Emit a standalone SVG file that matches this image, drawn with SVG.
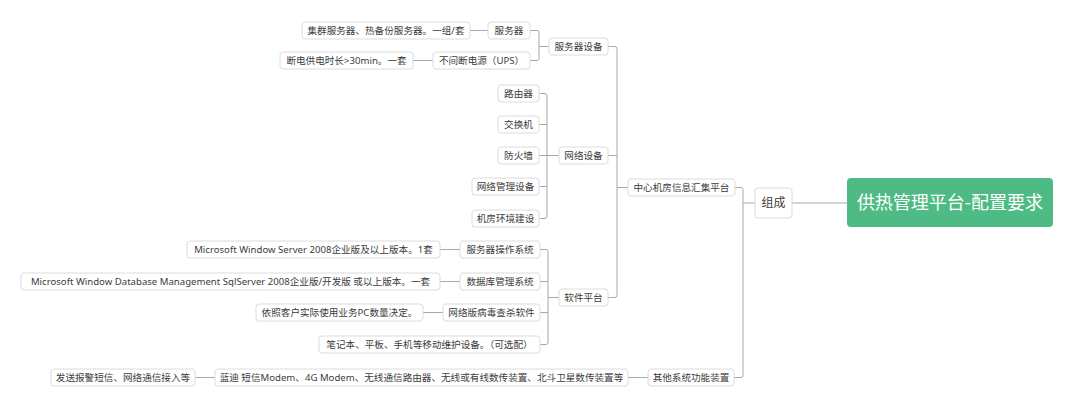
<svg xmlns="http://www.w3.org/2000/svg" width="1080" height="408" viewBox="0 0 1080 408">
<style>
.b{fill:#fff;stroke:#dcdcdc;stroke-width:1}
.t{font-family:"Noto Sans","Noto Sans CJK SC",sans-serif;font-size:9.6px;fill:#3c3c3c;text-anchor:middle}
.c{fill:none;stroke:#a8a8a8;stroke-width:1}
</style>
<rect width="1080" height="408" fill="#fff"/>
<g id="connectors">
<path class="c" d="M792,203 H847"/>
<path class="c" d="M735,187.5 H741 Q743,187.5 743,189.5 V375.5 Q743,377.5 741,377.5 H734 M743,203 H755"/>
<path class="c" d="M608,46.5 H615 Q617,46.5 617,48.5 V295.5 Q617,297.5 615,297.5 H608 M608,155.5 H617 M617,187.5 H628"/>
<path class="c" d="M530,30.5 H537 Q539,30.5 539,32.5 V58.5 Q539,60.5 537,60.5 H530 M539,46.5 H549"/>
<path class="c" d="M470,30.5 H488 M413,60.5 H433"/>
<path class="c" d="M539,93.5 H545 Q547,93.5 547,95.5 V216.5 Q547,218.5 545,218.5 H539 M539,124.5 H547 M539,155.5 H559 M539,186.5 H547"/>
<path class="c" d="M540,249.5 H546 Q548,249.5 548,251.5 V342.5 Q548,344.5 546,344.5 H540 M540,281.5 H548 M540,312.5 H548 M548,297.5 H559"/>
<path class="c" d="M440,249.5 H460 M440,281.5 H460 M423,312.5 H443"/>
<path class="c" d="M628,377.5 H648 M195,377.5 H215"/>
</g>
<g id="root"><rect x="847" y="178" width="206" height="49" rx="4" fill="#4fbb84"/><text x="950" y="209" font-family="Noto Sans CJK SC, sans-serif" font-size="18" fill="#fff" text-anchor="middle">供热管理平台-配置要求</text></g>
<g id="zucheng"><rect class="b" x="755" y="188" width="37" height="30" rx="3"/><text class="t" x="773.5" y="207" style="font-size:12px">组成</text></g>
<g id="center"><rect class="b" x="628" y="179" width="107" height="17" rx="3"/><text class="t" x="681.5" y="191">中心机房信息汇集平台</text></g>
<g id="srvdev"><rect class="b" x="549" y="38" width="59" height="17" rx="3"/><text class="t" x="578.5" y="50">服务器设备</text></g>
<g id="srv"><rect class="b" x="488" y="22" width="42" height="17" rx="3"/><text class="t" x="509" y="34">服务器</text></g>
<g id="srv-d"><rect class="b" x="302" y="22" width="168" height="17" rx="3"/><text class="t" x="386" y="34">集群服务器、热备份服务器。一组/套</text></g>
<g id="ups"><rect class="b" x="433" y="52" width="97" height="17" rx="3"/><text class="t" x="481.5" y="64">不间断电源（UPS）</text></g>
<g id="ups-d"><rect class="b" x="280" y="52" width="133" height="17" rx="3"/><text class="t" x="346.5" y="64">断电供电时长&gt;30min。一套</text></g>
<g id="net"><rect class="b" x="559" y="147" width="49" height="17" rx="3"/><text class="t" x="583.5" y="159">网络设备</text></g>
<g id="router"><rect class="b" x="498" y="85" width="41" height="17" rx="3"/><text class="t" x="518.5" y="97">路由器</text></g>
<g id="switch"><rect class="b" x="498" y="116" width="41" height="17" rx="3"/><text class="t" x="518.5" y="128">交换机</text></g>
<g id="firewall"><rect class="b" x="498" y="147" width="41" height="17" rx="3"/><text class="t" x="518.5" y="159">防火墙</text></g>
<g id="netmgr"><rect class="b" x="472" y="178" width="67" height="17" rx="3"/><text class="t" x="505.5" y="190">网络管理设备</text></g>
<g id="env"><rect class="b" x="472" y="210" width="67" height="17" rx="3"/><text class="t" x="505.5" y="222">机房环境建设</text></g>
<g id="sw"><rect class="b" x="559" y="289" width="49" height="17" rx="3"/><text class="t" x="583.5" y="301">软件平台</text></g>
<g id="os"><rect class="b" x="460" y="241" width="80" height="17" rx="3"/><text class="t" x="500" y="253">服务器操作系统</text></g>
<g id="os-d"><rect class="b" x="187" y="241" width="253" height="17" rx="3"/><text class="t" x="313.5" y="253">Microsoft Window Server 2008企业版及以上版本。1套</text></g>
<g id="db"><rect class="b" x="460" y="273" width="80" height="17" rx="3"/><text class="t" x="500" y="285">数据库管理系统</text></g>
<g id="db-d"><rect class="b" x="21" y="273" width="419" height="17" rx="3"/><text class="t" x="230.5" y="285">Microsoft Window Database Management SqlServer 2008企业版/开发版 或以上版本。一套</text></g>
<g id="av"><rect class="b" x="443" y="304" width="97" height="17" rx="3"/><text class="t" x="491.5" y="316">网络版病毒查杀软件</text></g>
<g id="av-d"><rect class="b" x="256" y="304" width="167" height="17" rx="3"/><text class="t" x="339.5" y="316">依照客户实际使用业务PC数量决定。</text></g>
<g id="mobile"><rect class="b" x="319" y="336" width="221" height="17" rx="3"/><text class="t" x="429.5" y="348">笔记本、平板、手机等移动维护设备。（可选配）</text></g>
<g id="other"><rect class="b" x="648" y="369" width="86" height="17" rx="3"/><text class="t" x="691" y="381">其他系统功能装置</text></g>
<g id="other-d"><rect class="b" x="215" y="369" width="413" height="17" rx="3"/><text class="t" x="421.5" y="381">蓝迪 短信Modem、4G Modem、无线通信路由器、无线或有线数传装置、北斗卫星数传装置等</text></g>
<g id="other-d2"><rect class="b" x="51" y="369" width="144" height="17" rx="3"/><text class="t" x="123" y="381">发送报警短信、网络通信接入等</text></g>
</svg>
